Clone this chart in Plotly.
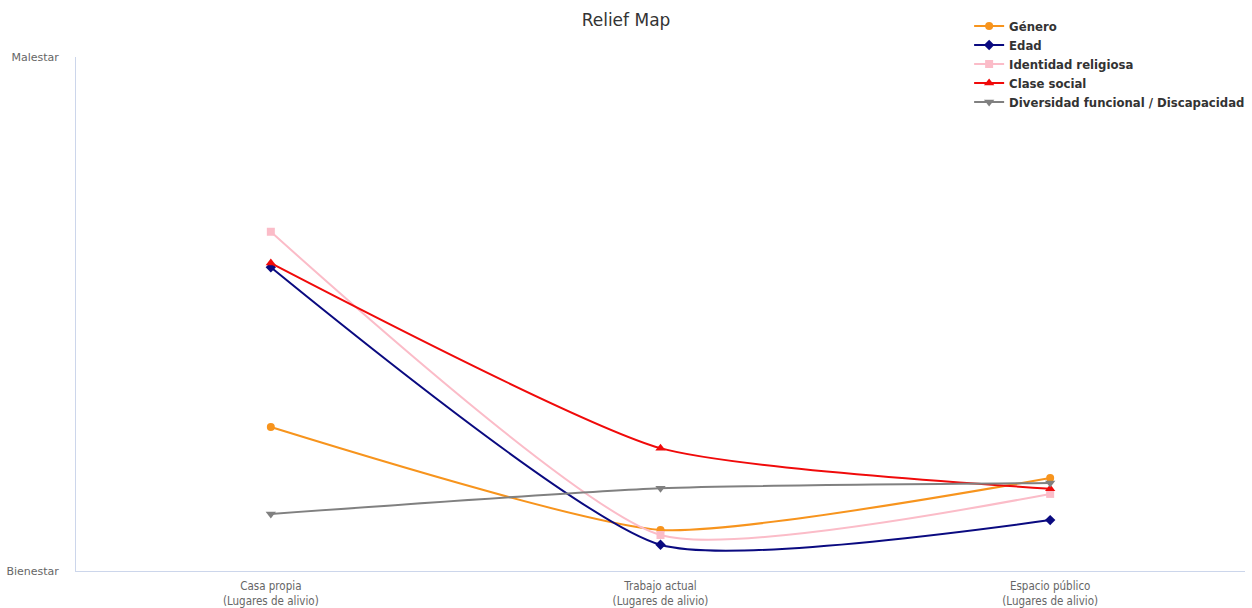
import plotly.graph_objects as go

# Places of relief and the felt discomfort level for each axis of identity
lugares = ["Casa propia<br>(Lugares de alivio)",
           "Trabajo actual<br>(Lugares de alivio)",
           "Espacio público<br>(Lugares de alivio)"]

genero = [2.80, 0.80, 1.81]
edad = [5.91, 0.51, 0.99]
identidad_religiosa = [6.60, 0.70, 1.50]
clase_social = [5.99, 2.39, 1.60]
diversidad_funcional = [1.11, 1.61, 1.71]

series = [
    ("Género", genero, "#f7941d", "circle", 8),
    ("Edad", edad, "#0a0a80", "diamond", 8),
    ("Identidad religiosa", identidad_religiosa, "#fbbcc8", "square", 8),
    ("Clase social", clase_social, "#f00a0a", "triangle-up", 9),
    ("Diversidad funcional / Discapacidad", diversidad_funcional, "#808080", "triangle-down", 9),
]

fig = go.Figure()
for nombre, valores, color, simbolo, tam in series:
    fig.add_trace(go.Scatter(
        x=[0, 1, 2], y=valores, name=nombre, mode="lines+markers",
        line=dict(color=color, width=2, shape="spline", smoothing=0.55),
        marker=dict(symbol=simbolo, size=tam, color=color),
    ))

fig.update_layout(
    width=1252, height=608,
    margin=dict(l=76, r=7, t=57, b=37, autoexpand=False),
    paper_bgcolor="white", plot_bgcolor="white",
    font=dict(family="DejaVu Sans, sans-serif", color="#666666", size=11),
    title=dict(text="Relief Map", x=0.5, xanchor="center", y=0.967, yanchor="middle",
               font=dict(family="DejaVu Sans, sans-serif", size=17, color="#333333")),
    showlegend=True,
    legend=dict(xref="container", yref="container", x=0.9985, xanchor="right",
                y=0.981, yanchor="top",
                font=dict(family="DejaVu Sans, sans-serif", size=11.7, color="#333333", weight="bold"),
                bgcolor="rgba(0,0,0,0)", tracegroupgap=0, itemwidth=30),
)
fig.update_xaxes(
    range=[-0.5, 2.5], tickmode="array", tickvals=[0, 1, 2], ticktext=lugares,
    showgrid=False, zeroline=False, showline=True, linecolor="#ccd6eb", linewidth=1,
    ticks="outside", ticklen=4, tickcolor="rgba(0,0,0,0)", automargin=False,
    tickfont=dict(family="Liberation Sans Narrow, DejaVu Sans Condensed, sans-serif", size=11.5, color="#666666"),
)
fig.update_yaxes(
    range=[0, 10], tickmode="array", tickvals=[0, 10], ticktext=["Bienestar", "Malestar"],
    showgrid=False, zeroline=False, showline=True, linecolor="#ccd6eb", linewidth=1,
    ticks="outside", ticklen=14, tickcolor="rgba(0,0,0,0)", automargin=False,
    tickfont=dict(family="DejaVu Sans, sans-serif", size=11, color="#666666"),
)

fig.write_html("out.html")
